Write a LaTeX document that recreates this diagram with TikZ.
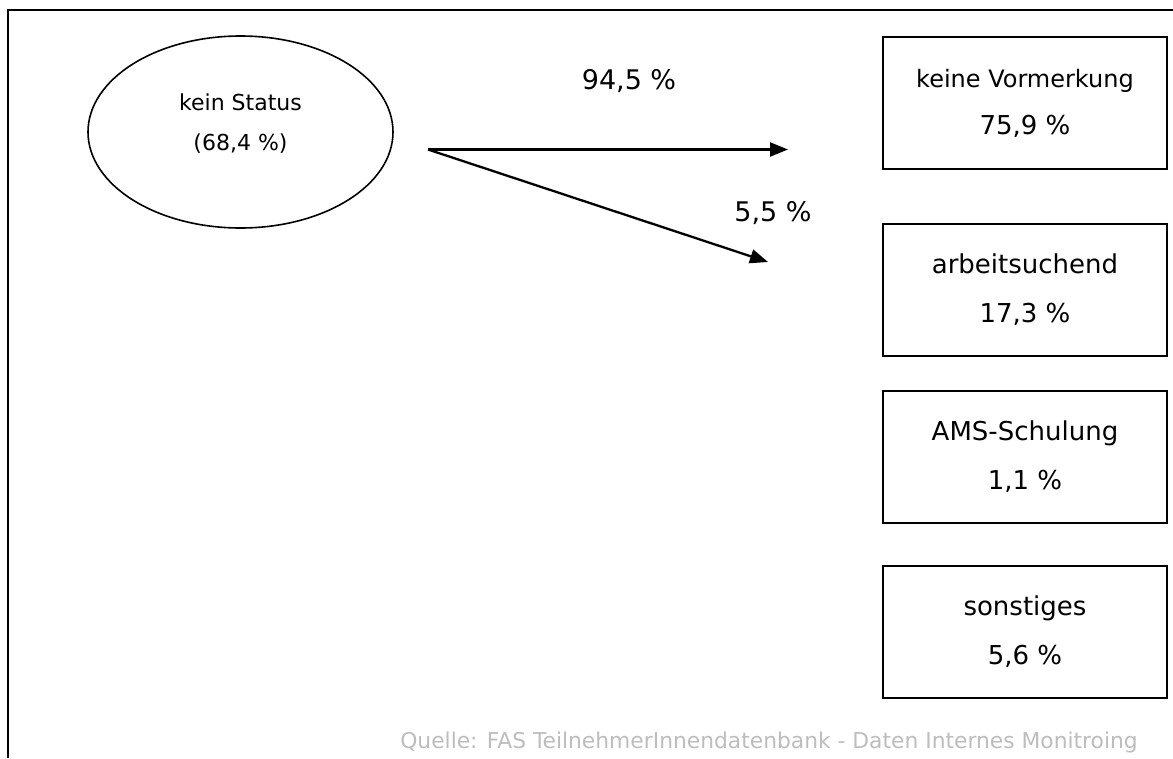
\documentclass[tikz,border=0pt]{standalone}
\usepackage{fontspec}
\setmainfont{DejaVu Sans}
\usetikzlibrary{shapes.geometric,arrows.meta}
\definecolor{srcgrey}{HTML}{BDBDBD}
\tikzset{
  statebox/.style={draw, line width=1.9pt, rectangle, minimum width=284pt,
    minimum height=132pt, inner sep=0pt, align=center},
  bigtxt/.style={font=\fontsize{26}{49}\selectfont},
  flow/.style={line width=2.3pt, -{Triangle[length=18pt,width=14pt]}},
  pct/.style={anchor=base, font=\fontsize{27}{27}\selectfont},
}
\begin{document}
\begin{tikzpicture}[x=1pt,y=-1pt]
  \useasboundingbox (0,0) rectangle (1173,758);
  % open frame: top and left edges only
  \draw[line width=2.3pt] (8.3,758) -- (8.3,10) -- (1173,10);

  % source state
  \node[draw, ellipse, line width=1.6pt, minimum width=305pt, minimum height=192pt,
        inner sep=0pt] (st) at (240.5,132) {};
  \node[align=center, font=\fontsize{22}{40}\selectfont] (sttxt) at (240.5,124)
        {kein Status\\(68,4 \%)};

  % target states
  \node[statebox, font=\fontsize{24}{47}\selectfont] (b1) at (1025,103)
        {keine Vormerkung\\{\fontsize{26}{47}\selectfont 75,9 \%}};
  \node[statebox, bigtxt] (b2) at (1025,290) {arbeitsuchend\\17,3 \%};
  \node[statebox, bigtxt] (b3) at (1025,457) {AMS-Schulung\\1,1 \%};
  \node[statebox, bigtxt] (b4) at (1025,632) {sonstiges\\5,6 \%};

  % transitions
  \coordinate (src) at (428,149.5);
  \coordinate (t1) at (788,149.5);
  \coordinate (t2) at (768,262);
  \draw[flow] (src) -- (t1);
  \draw[flow] (src) -- (t2);
  \node[pct] (p1) at (629,89) {94,5 \%};
  \node[pct] (p2) at (773,221) {5,5 \%};

  % source note
  \node[anchor=base, text=srcgrey, font=\fontsize{21.8}{21.8}\selectfont] (note)
        at (769,748) {Quelle: FAS TeilnehmerInnendatenbank - Daten Internes Monitroing};
\end{tikzpicture}
\end{document}
